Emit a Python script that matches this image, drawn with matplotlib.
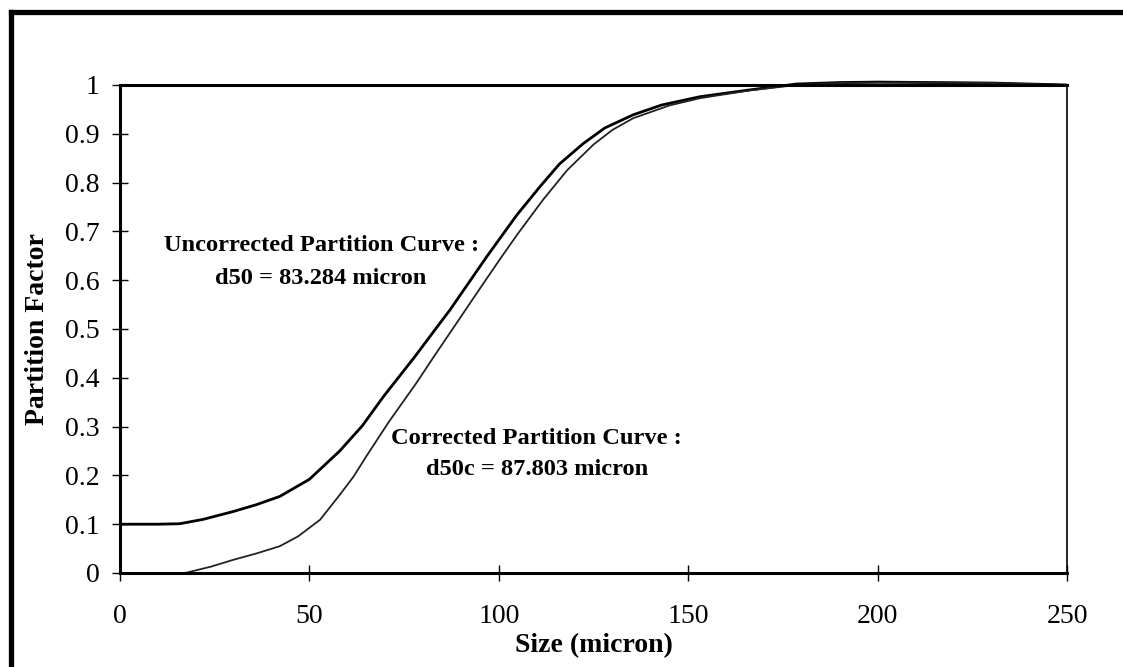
import matplotlib
matplotlib.use("Agg")
import matplotlib.pyplot as plt
from matplotlib.lines import Line2D

# values
size_uncorr = [0, 10, 15.8, 22, 29.9, 36, 42.2, 50, 58, 64, 69.5, 78, 83.3, 87.1,
               96.8, 104.7, 110.9, 116, 122.3, 128, 135.5, 143, 153.1, 166.3, 178.6,
               190, 200, 215, 230, 240, 250]
pf_uncorr = [0.1, 0.1, 0.101, 0.11, 0.126, 0.14, 0.157, 0.192, 0.25, 0.302, 0.361,
             0.445, 0.50, 0.539, 0.648, 0.733, 0.792, 0.838, 0.880, 0.912, 0.939,
             0.959, 0.976, 0.990, 1.002, 1.005, 1.006, 1.005, 1.004, 1.002, 1.0]

size_corr = [17.2, 24, 29.9, 36, 42.2, 47, 52.8, 58, 61.6, 65.1, 71, 78.3, 83, 87.8,
             95.9, 100.3, 105, 111.7, 118, 125, 130, 135.5, 145, 153.1, 166.3, 178.6,
             190, 200, 215, 230, 240, 250]
pf_corr = [0.0, 0.013, 0.027, 0.040, 0.055, 0.075, 0.109, 0.160, 0.197, 0.240,
           0.310, 0.390, 0.445, 0.50, 0.593, 0.643, 0.695, 0.765, 0.825, 0.878,
           0.908, 0.932, 0.958, 0.973, 0.989, 1.0, 1.004, 1.005, 1.005, 1.004,
           1.002, 1.0]

x_ticks = [0, 50, 100, 150, 200, 250]
y_ticks = [0, 0.1, 0.2, 0.3, 0.4, 0.5, 0.6, 0.7, 0.8, 0.9, 1]
y_labels = ["0", "0.1", "0.2", "0.3", "0.4", "0.5", "0.6", "0.7", "0.8", "0.9", "1"]

plt.rcParams['font.family'] = ['Liberation Serif', 'DejaVu Serif']

W, H = 1123, 667
fig = plt.figure(figsize=(W / 100, H / 100), dpi=100)
ax = fig.add_axes([120 / W, 1 - 573 / H, 947 / W, 488 / H])

ax.plot(size_uncorr, pf_uncorr, color='black', lw=2.0, clip_on=False, solid_capstyle='butt')
ax.plot(size_corr, pf_corr, color='#222222', lw=1.3, clip_on=False, solid_capstyle='butt')

ax.set_xlim(0, 250)
ax.set_ylim(0, 1)
ax.set_xticks(x_ticks)
ax.set_yticks(y_ticks)
ax.set_yticklabels(y_labels)
ax.tick_params(direction='inout', length=11, width=1.0, labelsize=20, color='black')
ax.tick_params(axis='x', pad=17)
ax.tick_params(axis='y', pad=9)

for side in ['left', 'bottom', 'top']:
    ax.spines[side].set_linewidth(2.2)
ax.spines['right'].set_linewidth(1.2)

ax.set_xlabel('Size (micron)', fontsize=20, fontweight='bold', labelpad=3)
ax.set_ylabel('Partition Factor', fontsize=20, fontweight='bold')
ax.yaxis.set_label_coords(-70 / 947, 0.5)

# curve annotations
ax.text(53.1, 0.672, 'Uncorrected Partition Curve :', ha='center', va='center',
        fontsize=17.6, fontweight='bold')
ax.text(53.1, 0.604, 'd50 = 83.284 micron', ha='center', va='center',
        fontsize=17.6, fontweight='bold')
ax.text(110, 0.276, 'Corrected Partition Curve :', ha='center', va='center',
        fontsize=17.6, fontweight='bold')
ax.text(110, 0.2125, 'd50c = 87.803 micron', ha='center', va='center',
        fontsize=17.6, fontweight='bold')

# thick outer frame of the scanned figure (left and top edges visible)
fig.add_artist(Line2D([11.5 / W, 11.5 / W], [0, 1 - 12 / H], transform=fig.transFigure,
                      color='black', lw=3.8, solid_capstyle='projecting'))
fig.add_artist(Line2D([11.5 / W, 1], [1 - 12 / H, 1 - 12 / H], transform=fig.transFigure,
                      color='black', lw=3.8, solid_capstyle='projecting'))

fig.savefig('out.png', dpi=100)
